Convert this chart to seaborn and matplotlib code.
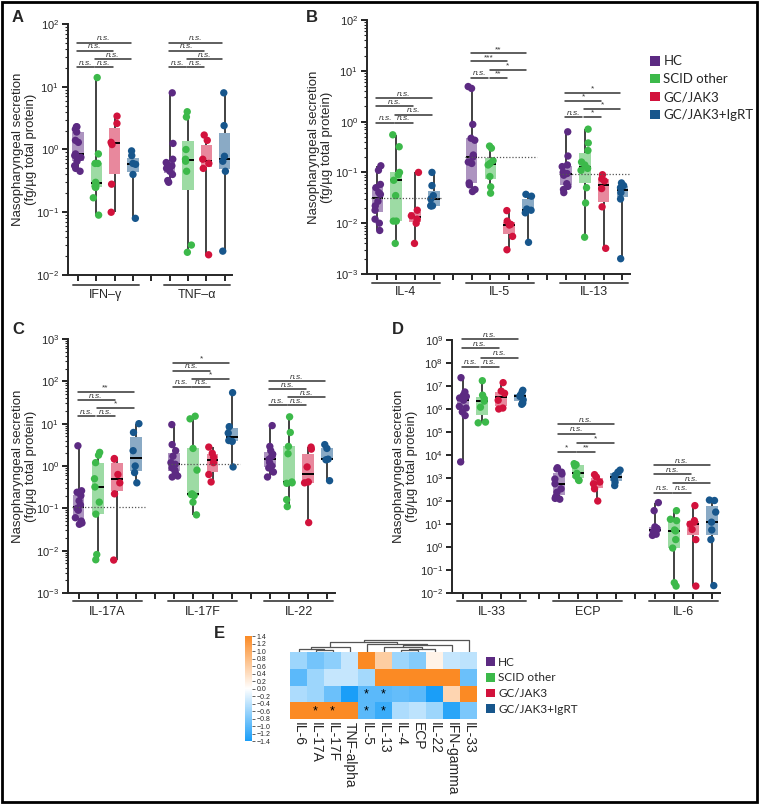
import numpy as np
import pandas as pd
import matplotlib
matplotlib.use("Agg")
import matplotlib.pyplot as plt
import seaborn as sns
from matplotlib.colors import LinearSegmentedColormap
from matplotlib.patches import Patch, Rectangle
from matplotlib.ticker import LogLocator, LogFormatterMathtext, NullLocator, FixedFormatter

GROUPS = ["HC", "SCID other", "GC/JAK3", "GC/JAK3+IgRT"]
COLORS = ["#5c2a82", "#3cb94a", "#d2123c", "#17568c"]

# values per cytokine, in group order HC, SCID other, GC/JAK3, GC/JAK3+IgRT
IFNG = [[2.3, 2.3, 2.1, 1.9, 1.4, 1.3, 0.85, 0.8, 0.75, 0.65, 0.55, 0.5, 0.45],
        [14, 0.85, 0.6, 0.6, 0.3, 0.28, 0.25, 0.25, 0.17, 0.09],
        [3.4, 2.6, 1.3, 1.2, 0.28, 0.1],
        [0.95, 0.8, 0.6, 0.58, 0.4, 0.08]]
TNFA = [[8.0, 1.25, 0.7, 0.62, 0.58, 0.55, 0.5, 0.45, 0.4, 0.32, 0.3],
        [4.0, 3.3, 1.0, 0.7, 0.65, 0.45, 0.03, 0.023],
        [1.7, 1.4, 0.7, 0.6, 0.5, 0.021],
        [8.0, 2.4, 0.78, 0.65, 0.45, 0.024]]
IL4 = [[0.135, 0.11, 0.058, 0.05, 0.04, 0.037, 0.027, 0.022, 0.018, 0.012, 0.01, 0.0072],
       [0.55, 0.32, 0.1, 0.09, 0.07, 0.035, 0.011, 0.011, 0.004],
       [0.1, 0.018, 0.014, 0.012, 0.01, 0.004],
       [0.1, 0.055, 0.035, 0.03, 0.022, 0.022, 0.022]]
IL5 = [[4.9, 4.5, 0.88, 0.47, 0.43, 0.22, 0.2, 0.16, 0.15, 0.062, 0.057, 0.046, 0.042],
       [0.33, 0.3, 0.17, 0.15, 0.14, 0.083, 0.052, 0.039],
       [0.0177, 0.011, 0.0095, 0.0092, 0.0055, 0.003],
       [0.037, 0.034, 0.019, 0.018, 0.016, 0.0042]]
IL13 = [[0.63, 0.21, 0.14, 0.13, 0.1, 0.095, 0.088, 0.06, 0.053, 0.046, 0.04],
        [0.71, 0.38, 0.27, 0.16, 0.14, 0.12, 0.11, 0.05, 0.025, 0.0053],
        [0.09, 0.075, 0.068, 0.048, 0.021, 0.0032],
        [0.062, 0.055, 0.05, 0.04, 0.03, 0.002]]
IL17A = [[3.0, 0.26, 0.24, 0.2, 0.15, 0.12, 0.1, 0.09, 0.06, 0.05, 0.045, 0.042],
         [2.1, 1.8, 1.2, 0.5, 0.32, 0.14, 0.073, 0.0081, 0.0061],
         [1.5, 1.45, 0.63, 0.4, 0.22, 0.006],
         [10, 6.2, 2.3, 1.0, 0.7, 0.4]]
IL17F = [[9.5, 3.2, 2.3, 1.7, 1.2, 1.1, 0.9, 0.8, 0.7, 0.58, 0.55],
         [15, 13, 2.6, 0.8, 0.22, 0.21, 0.2, 0.14, 0.07],
         [2.8, 2.0, 1.6, 1.2, 0.63, 0.42],
         [54, 8.5, 6.0, 4.0, 3.8, 0.95]]
IL22 = [[9.0, 2.9, 2.3, 1.9, 1.7, 1.45, 1.2, 1.0, 0.9, 0.72, 0.55],
        [14.5, 6.2, 2.9, 1.95, 0.42, 0.4, 0.39, 0.16, 0.11],
        [2.8, 2.5, 0.95, 0.42, 0.4, 0.046],
        [3.2, 2.6, 1.45, 1.4, 0.45]]
IL33 = [[2.3e7, 5.5e6, 4e6, 3.5e6, 3e6, 2.4e6, 1.3e6, 1.1e6, 7.5e5, 5.2e5, 5e3],
        [1.7e7, 4e6, 2.8e6, 2.2e6, 1.2e6, 2.7e5, 2.5e5],
        [1.4e7, 6e6, 4.8e6, 2.4e6, 1.1e6, 1.0e6],
        [6.5e6, 5.5e6, 4e6, 3.5e6, 2.5e6, 1.8e6, 1.6e6]]
ECP = [[2.8e3, 2.5e3, 1.8e3, 1.5e3, 9e2, 5.6e2, 3.4e2, 2.4e2, 1.5e2, 1.3e2, 1.2e2],
       [4.2e3, 3.8e3, 3.4e3, 1.6e3, 1.2e3, 8.2e2, 7.8e2],
       [1.4e3, 1.1e3, 6.7e2, 5.6e2, 3.4e2, 1e2],
       [2.2e3, 1.8e3, 1.3e3, 9e2, 6.5e2, 4.7e2]]
IL6 = [[85, 38, 7.5, 6.5, 6, 5.5, 4.6, 4.2, 3.6, 3.2],
       [38, 16, 14, 5.5, 5, 2.1, 0.9, 0.028, 0.02],
       [63, 14, 12, 9.8, 5.8, 2.1, 0.02],
       [110, 105, 33, 12, 5.5, 2.1, 0.021]]

# significance, pairs: HC-SCID, SCID-GC, SCID-IgRT, HC-GC, HC-IgRT
NS = ["n.s."] * 5
SIG_IL5 = ["n.s.", "**", "*", "***", "**"]
SIG_IL13 = ["n.s.", "*", "*", "*", "*"]
SIG_IL17A = ["n.s.", "n.s.", "*", "n.s.", "**"]
SIG_IL17F = ["n.s.", "n.s.", "*", "n.s.", "*"]
SIG_ECP = ["*", "**", "*", "n.s.", "n.s."]

# heatmap (z-scores)
HEAT_COLS = ["IL-6", "IL-17A", "IL-17F", "TNF-alpha", "IL-5", "IL-13", "IL-4",
             "ECP", "IL-22", "IFN-gamma", "IL-33"]
HEAT_HC = [-0.6, -0.85, -0.7, -0.35, 1.4, 0.6, -0.6, -0.75, 0.15, -0.35, -0.4]
HEAT_SCID = [-1.0, -0.6, -0.35, -0.35, -0.55, 1.4, 1.4, 1.4, 1.4, 1.4, -0.9]
HEAT_GC = [-0.5, -0.6, -0.9, -1.4, -1.0, -1.0, -0.95, -1.0, -1.4, 0.5, 1.4]
HEAT_IGRT = [1.4, 1.4, 1.4, 1.4, -1.0, -1.2, -0.5, -0.4, -0.6, -1.3, -0.8]
HEAT_STARS = [(2, 4), (2, 5), (3, 1), (3, 2), (3, 4), (3, 5)]
# dendrogram merges: (left, right, height); leaves are 0..10, new nodes from 11
DENDRO = [(1, 2, 5), (0, 11, 9), (12, 3, 14), (6, 7, 5), (14, 8, 10),
          (5, 15, 16), (16, 9, 22), (4, 17, 25), (13, 18, 31), (19, 10, 36)]

PAIRS = [(0, 1), (1, 2), (1, 3), (0, 2), (0, 3)]
LEVELS = [0, 0, 1, 2, 3]

sns.set_style("ticks")
plt.rcParams["font.family"] = ["Liberation Sans Narrow", "Liberation Sans", "DejaVu Sans"]
plt.rcParams["mathtext.default"] = "regular"
plt.rcParams["axes.linewidth"] = 1.4


def cytokine_frame(sets):
    rows = []
    for k, groups in enumerate(sets):
        for g, vals in enumerate(groups):
            for v in vals:
                rows.append((str(k * 5 + g), GROUPS[g], v))
    return pd.DataFrame(rows, columns=["slot", "group", "value"])


def draw_panel(ax, sets, labels, sigs, bar_low, step, ylim, dotted,
               minor=True, uy=-0.04, ly=-0.08, labx=-0.15):
    df = cytokine_frame(sets)
    nslot = len(sets) * 5 - 1
    order = [str(i) for i in range(nslot)]
    sns.boxplot(data=df, x="slot", y="value", hue="group", order=order,
                hue_order=GROUPS, palette=COLORS, dodge=False, log_scale=True,
                whis=(0, 100), width=0.62, showcaps=False, saturation=1,
                linecolor="#333333", linewidth=1.3, legend=False, ax=ax,
                medianprops=dict(color="black", linewidth=1.4))
    for p in ax.patches:
        fc = p.get_facecolor()
        p.set_facecolor((fc[0], fc[1], fc[2], 0.5))
        p.set_edgecolor("none")
    sns.stripplot(data=df, x="slot", y="value", hue="group", order=order,
                  hue_order=GROUPS, palette=COLORS, dodge=False, log_scale=True,
                  jitter=0.2, size=5.3, linewidth=0, legend=False, ax=ax, zorder=3)

    ax.set_ylim(ylim)
    ax.set_xlim(-0.55, nslot - 0.6)
    ax.set_xticks(range(nslot))
    ax.set_xticklabels([])
    ax.set_xlabel("")
    ax.set_ylabel("Nasopharyngeal secretion\n(fg/µg total protein)", fontsize=9.5,
                  linespacing=1.1)
    ax.yaxis.set_label_coords(labx, 0.5)
    ax.yaxis.set_major_locator(LogLocator(base=10, numticks=20))
    ax.yaxis.set_major_formatter(LogFormatterMathtext())
    if minor:
        ax.yaxis.set_minor_locator(LogLocator(base=10, subs=np.arange(2, 10), numticks=20))
    else:
        ax.yaxis.set_minor_locator(NullLocator())
    ax.tick_params(axis="both", which="major", length=4, width=1.2, labelsize=8, color="black",
                   pad=2.5)
    ax.tick_params(axis="y", which="minor", length=2, width=0.8)
    sns.despine(ax=ax)

    trans = ax.get_xaxis_transform()
    for k, label in enumerate(labels):
        x0 = k * 5
        ax.plot([x0 - 0.3, x0 + 3.3], [uy, uy], transform=trans, clip_on=False,
                color="#555555", lw=1.4)
        ax.text(x0 + 1.5, ly, label, transform=trans, ha="center", va="center", fontsize=9)
        for (i, j), lev, s in zip(PAIRS, LEVELS, sigs[k]):
            yb = bar_low[k] * 10 ** (step * lev)
            ax.plot([x0 + i - 0.05, x0 + j - 0.12], [yb, yb], color="#333333",
                    lw=1.1, clip_on=False)
            ax.annotate(s, ((2 * x0 + i + j - 0.17) / 2, yb), xytext=(0, 0.3),
                        textcoords="offset points", ha="center", va="bottom",
                        fontsize=6, style="italic" if s == "n.s." else "normal",
                        color="#333333", annotation_clip=False)
        if label in dotted:
            med = np.median(sets[k][0])
            ax.hlines(med, x0 - 0.35, x0 + 3.45, colors="#555555", linestyles=(0, (1, 1.5)),
                      lw=0.9, zorder=4)


fig = plt.figure(figsize=(7.59, 8.05), dpi=100)
W, H = 759.0, 805.0


def box(l, t, r, b):
    return [l / W, 1 - b / H, (r - l) / W, (b - t) / H]


axA = fig.add_axes(box(68, 24, 232, 275))
draw_panel(axA, [IFNG, TNFA], ["IFN–γ", "TNF–α"], [NS, NS], [20.5, 20.5], 0.13,
           (1e-2, 1e2), [], uy=-0.04, ly=-0.08, labx=-0.19)

axB = fig.add_axes(box(367, 20, 630, 274))
draw_panel(axB, [IL4, IL5, IL13], ["IL-4", "IL-5", "IL-13"], [NS, SIG_IL5, SIG_IL13],
           [0.95, 7.3, 1.23], 0.16, (1e-3, 1e2), ["IL-4", "IL-5", "IL-13"],
           uy=-0.035, ly=-0.072, labx=-0.13)

axC = fig.add_axes(box(68, 339, 335, 593))
draw_panel(axC, [IL17A, IL17F, IL22], ["IL-17A", "IL-17F", "IL-22"],
           [SIG_IL17A, SIG_IL17F, NS], [15, 74, 27], 0.19, (1e-3, 1e3),
           ["IL-17A", "IL-17F"], uy=-0.032, ly=-0.075, labx=-0.116)

axD = fig.add_axes(box(452, 340, 720, 593))
draw_panel(axD, [IL33, ECP, IL6], ["IL-33", "ECP", "IL-6"], [NS, SIG_ECP, NS],
           [6.9e7, 1.35e4, 230], 0.4, (1e-2, 1e9), [], minor=False,
           uy=-0.032, ly=-0.075, labx=-0.128)

# legend for the box panels
handles = [Patch(facecolor=c, edgecolor="none", label=g) for g, c in zip(GROUPS, COLORS)]
fig.legend(handles=handles, loc="upper left", bbox_to_anchor=(645 / W, 1 - 50 / H),
           frameon=False, handlelength=0.75, handleheight=0.75,
           handletextpad=0.25, labelspacing=0.45, borderaxespad=0,
           prop={"family": ["Lato", "DejaVu Sans"], "size": 9.5})

# heatmap panel E
heat = pd.DataFrame([HEAT_HC, HEAT_SCID, HEAT_GC, HEAT_IGRT], index=GROUPS, columns=HEAT_COLS)
cmap = LinearSegmentedColormap.from_list("bo", ["#1a9ef8", "#ffffff", "#fb8a24"])
axH = fig.add_axes(box(290, 652, 477, 719))
cax = fig.add_axes(box(245, 636, 252, 741))
sns.heatmap(heat, ax=axH, cmap=cmap, vmin=-1.4, vmax=1.4, cbar_ax=cax,
            xticklabels=HEAT_COLS, yticklabels=False)
axH.set_xticklabels(HEAT_COLS, rotation=-90, ha="center", va="top", fontsize=10)
axH.tick_params(axis="x", length=0, pad=2)
axH.set_xlabel("")
axH.set_ylabel("")
for r, c in HEAT_STARS:
    axH.text(c + 0.5, r + 0.55, "*", ha="center", va="center", fontsize=9, color="black")

cbar = axH.collections[0].colorbar
cticks = np.round(np.arange(-1.4, 1.41, 0.2), 1)
cbar.set_ticks(cticks)
cbar.ax.yaxis.set_major_formatter(FixedFormatter(
    [("%.1f" % v).replace("-", "\u2212") if abs(v) > 1e-9 else "0.0" for v in cticks]))
cbar.ax.tick_params(labelsize=5, length=2, width=0.5, pad=1.5)
cbar.outline.set_visible(False)

# dendrogram above the heatmap
axDen = fig.add_axes(box(290, 637, 477, 652))
xs = {i: i + 0.5 for i in range(len(HEAT_COLS))}
hs = {i: 0 for i in range(len(HEAT_COLS))}
for n, (a, b, h) in enumerate(DENDRO):
    node = len(HEAT_COLS) + n
    axDen.plot([xs[a], xs[a], xs[b], xs[b]], [hs[a], h, h, hs[b]], color="#555555", lw=0.9)
    xs[node] = (xs[a] + xs[b]) / 2
    hs[node] = h
axDen.set_xlim(0, len(HEAT_COLS))
axDen.set_ylim(0, 45)
axDen.axis("off")

fig.legend(handles=handles, loc="upper left", bbox_to_anchor=(481 / W, 1 - 652 / H),
           frameon=False, handlelength=0.75, handleheight=0.75,
           handletextpad=0.3, labelspacing=0.4, borderaxespad=0,
           prop={"family": ["Lato", "DejaVu Sans"], "size": 8.5})

# panel letters
for letter, x, y in [("A", 12, 17), ("B", 306, 17), ("C", 12, 329), ("D", 392, 329), ("E", 214, 633)]:
    fig.text(x / W, 1 - y / H, letter, fontsize=12, fontweight="bold",
             family=["Liberation Sans", "DejaVu Sans"], ha="left", va="center")

fig.patches.append(Rectangle((0.002, 0.004), 0.996, 0.994, transform=fig.transFigure,
                             fill=False, lw=2, ec="black"))

fig.savefig("out.png", dpi=100)
